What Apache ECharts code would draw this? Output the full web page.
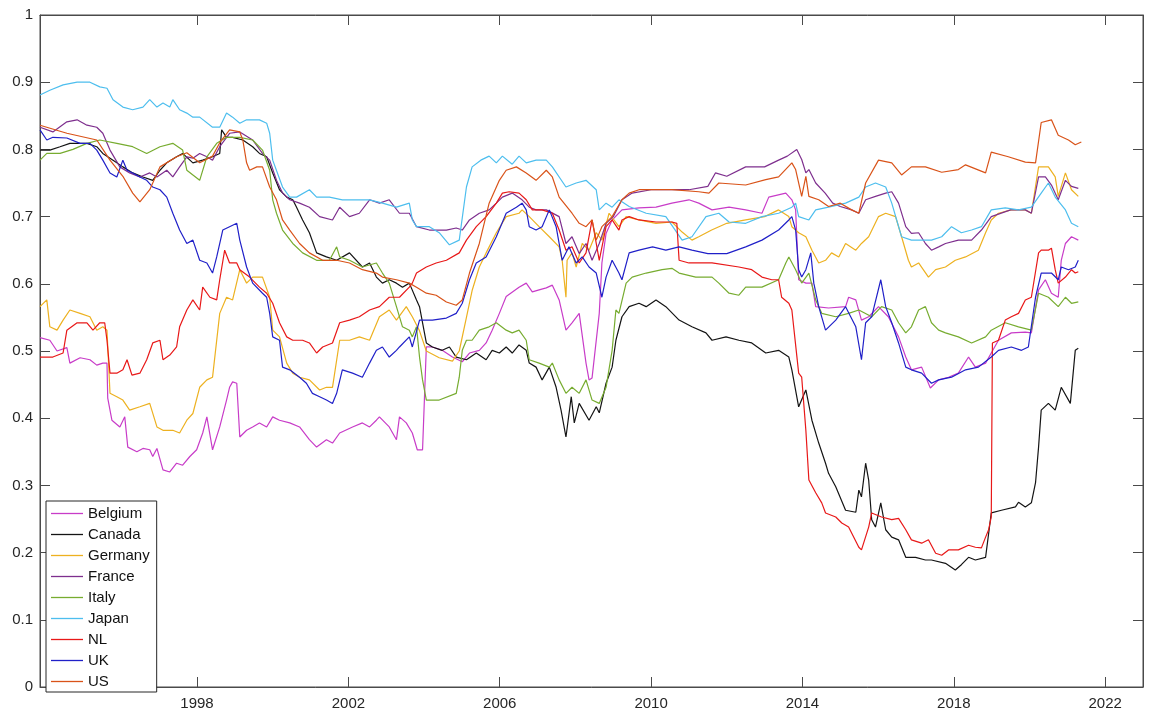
<!DOCTYPE html>
<html>
<head>
<meta charset="utf-8">
<script src="https://cdn.jsdelivr.net/npm/echarts@6/dist/echarts.min.js"></script>
<style>
  html, body { margin: 0; padding: 0; background: #fff; }
  #chart { width: 1150px; height: 715px; }
</style>
</head>
<body>
<div id="chart"></div>
<script>
// Monthly-ish readings per country: [decimal year, value]
const countries = ['Belgium', 'Canada', 'Germany', 'France', 'Italy', 'Japan', 'NL', 'UK', 'US'];
const yearTicks = [1998, 2002, 2006, 2010, 2014, 2018, 2022];

const belgium = [[1993.85,.520],[1994.11,.516],[1994.30,.500],[1994.56,.505],[1994.64,.482],[1994.91,.490],[1995.17,.487],[1995.35,.479],[1995.51,.482],[1995.62,.482],[1995.64,.430],[1995.75,.397],[1995.96,.387],[1996.09,.402],[1996.17,.357],[1996.41,.350],[1996.57,.355],[1996.75,.353],[1996.83,.343],[1996.94,.355],[1997.10,.323],[1997.28,.320],[1997.46,.333],[1997.62,.330],[1997.81,.343],[1997.99,.353],[1998.15,.378],[1998.26,.402],[1998.41,.353],[1998.60,.387],[1998.78,.427],[1998.86,.446],[1998.94,.454],[1999.05,.452],[1999.13,.372],[1999.31,.382],[1999.47,.387],[1999.65,.393],[1999.84,.387],[2000.00,.402],[2000.18,.397],[2000.45,.393],[2000.71,.387],[2000.97,.368],[2001.16,.357],[2001.42,.368],[2001.58,.363],[2001.77,.378],[2002.11,.387],[2002.37,.393],[2002.56,.387],[2002.74,.397],[2002.82,.402],[2003.08,.387],[2003.27,.368],[2003.35,.402],[2003.53,.393],[2003.69,.378],[2003.82,.353],[2003.96,.353],[2004.06,.506],[2004.22,.506],[2004.48,.501],[2004.75,.491],[2005.01,.484],[2005.20,.497],[2005.46,.501],[2005.64,.512],[2005.80,.531],[2005.99,.556],[2006.17,.581],[2006.51,.595],[2006.70,.601],[2006.86,.588],[2007.04,.591],[2007.23,.594],[2007.39,.598],[2007.57,.576],[2007.75,.531],[2007.91,.542],[2008.10,.556],[2008.28,.482],[2008.36,.457],[2008.44,.460],[2008.63,.556],[2008.70,.631],[2008.81,.675],[2008.97,.695],[2009.23,.710],[2009.68,.713],[2010.13,.714],[2010.55,.720],[2011.00,.725],[2011.26,.720],[2011.61,.710],[2012.06,.714],[2012.50,.710],[2012.93,.705],[2013.11,.729],[2013.56,.735],[2013.72,.725],[2013.82,.710],[2013.90,.606],[2014.09,.601],[2014.25,.601],[2014.35,.566],[2014.69,.564],[2015.14,.566],[2015.22,.580],[2015.41,.576],[2015.56,.546],[2015.75,.551],[2016.01,.566],[2016.27,.551],[2016.54,.521],[2016.73,.491],[2016.88,.472],[2017.15,.476],[2017.38,.445],[2017.60,.457],[2017.86,.461],[2018.12,.467],[2018.39,.491],[2018.57,.476],[2018.84,.482],[2018.99,.497],[2019.18,.516],[2019.52,.527],[2019.89,.528],[2020.05,.527],[2020.24,.591],[2020.42,.606],[2020.58,.586],[2020.76,.580],[2020.84,.635],[2020.95,.660],[2021.11,.670],[2021.29,.665]];

const canada = [[1993.85,.799],[1994.11,.799],[1994.38,.804],[1994.64,.809],[1995.09,.809],[1995.35,.804],[1995.51,.794],[1995.78,.784],[1996.04,.774],[1996.30,.765],[1996.57,.759],[1996.83,.754],[1997.02,.769],[1997.20,.780],[1997.46,.789],[1997.62,.794],[1997.89,.780],[1998.15,.784],[1998.41,.789],[1998.60,.794],[1998.65,.829],[1998.78,.818],[1998.94,.818],[1999.21,.814],[1999.47,.804],[1999.65,.794],[1999.84,.789],[2000.00,.765],[2000.18,.740],[2000.37,.729],[2000.53,.725],[2000.63,.714],[2000.79,.695],[2000.97,.676],[2001.16,.646],[2001.42,.640],[2001.69,.635],[2002.03,.646],[2002.37,.625],[2002.56,.631],[2002.74,.610],[2002.90,.601],[2003.08,.606],[2003.27,.601],[2003.43,.595],[2003.61,.601],[2003.80,.576],[2003.88,.566],[2004.06,.512],[2004.22,.506],[2004.48,.501],[2004.67,.506],[2004.85,.491],[2005.12,.487],[2005.38,.497],[2005.64,.487],[2005.80,.501],[2005.99,.497],[2006.17,.506],[2006.33,.497],[2006.51,.509],[2006.70,.501],[2006.78,.482],[2006.96,.476],[2007.12,.457],[2007.31,.476],[2007.49,.446],[2007.62,.412],[2007.75,.372],[2007.89,.432],[2007.97,.393],[2008.10,.422],[2008.36,.397],[2008.55,.417],[2008.63,.408],[2008.81,.452],[2008.97,.476],[2009.07,.516],[2009.23,.551],[2009.42,.566],[2009.68,.571],[2009.87,.566],[2010.13,.576],[2010.39,.566],[2010.74,.546],[2011.08,.536],[2011.45,.527],[2011.61,.516],[2011.98,.521],[2012.32,.516],[2012.66,.512],[2013.03,.497],[2013.37,.501],[2013.64,.491],[2013.72,.472],[2013.90,.417],[2014.09,.442],[2014.25,.397],[2014.43,.363],[2014.61,.333],[2014.69,.318],[2014.88,.298],[2015.14,.263],[2015.41,.260],[2015.49,.293],[2015.56,.283],[2015.67,.333],[2015.75,.308],[2015.83,.249],[2015.93,.238],[2016.07,.274],[2016.20,.234],[2016.36,.223],[2016.54,.219],[2016.73,.193],[2016.99,.193],[2017.25,.189],[2017.41,.189],[2017.78,.184],[2018.04,.174],[2018.20,.182],[2018.39,.193],[2018.57,.189],[2018.84,.193],[2018.99,.259],[2019.26,.263],[2019.63,.268],[2019.71,.275],[2019.89,.268],[2020.05,.274],[2020.16,.304],[2020.24,.357],[2020.31,.412],[2020.50,.422],[2020.68,.412],[2020.84,.446],[2021.08,.422],[2021.21,.501],[2021.29,.504]];

const germany = [[1993.85,.566],[1994.03,.576],[1994.11,.536],[1994.30,.531],[1994.46,.546],[1994.64,.561],[1994.91,.556],[1995.17,.551],[1995.35,.531],[1995.51,.536],[1995.62,.531],[1995.70,.437],[1995.88,.432],[1996.04,.427],[1996.22,.412],[1996.49,.417],[1996.75,.422],[1996.94,.387],[1997.10,.382],[1997.36,.382],[1997.54,.378],[1997.73,.397],[1997.89,.407],[1998.07,.446],[1998.26,.457],[1998.41,.461],[1998.60,.556],[1998.78,.580],[1998.94,.576],[1999.13,.621],[1999.31,.601],[1999.47,.610],[1999.73,.610],[1999.92,.580],[2000.00,.531],[2000.18,.521],[2000.37,.482],[2000.53,.467],[2000.71,.461],[2000.97,.457],[2001.24,.442],[2001.42,.446],[2001.58,.446],[2001.77,.516],[2002.03,.516],[2002.29,.521],[2002.56,.516],[2002.82,.551],[2003.08,.561],[2003.27,.546],[2003.53,.566],[2003.69,.551],[2003.88,.530],[2004.06,.500],[2004.40,.490],[2004.75,.485],[2004.93,.500],[2005.12,.550],[2005.27,.590],[2005.46,.625],[2005.64,.646],[2005.91,.676],[2006.17,.700],[2006.51,.705],[2006.59,.710],[2006.78,.700],[2007.04,.685],[2007.31,.670],[2007.57,.655],[2007.65,.635],[2007.75,.580],[2007.78,.635],[2007.91,.646],[2008.02,.625],[2008.18,.660],[2008.36,.650],[2008.55,.676],[2008.70,.665],[2008.89,.705],[2009.15,.685],[2009.34,.700],[2009.68,.695],[2010.13,.690],[2010.55,.692],[2010.82,.677],[2011.08,.665],[2011.26,.670],[2011.60,.680],[2012.00,.690],[2012.50,.695],[2013.00,.700],[2013.37,.710],[2013.64,.700],[2013.72,.685],[2013.90,.676],[2014.09,.670],[2014.25,.650],[2014.43,.631],[2014.61,.635],[2014.77,.646],[2014.96,.640],[2015.14,.660],[2015.41,.650],[2015.56,.660],[2015.75,.670],[2016.01,.700],[2016.20,.705],[2016.46,.700],[2016.62,.670],[2016.80,.635],[2016.88,.625],[2017.07,.631],[2017.33,.610],[2017.52,.621],[2017.78,.625],[2018.04,.635],[2018.31,.640],[2018.65,.650],[2018.84,.676],[2018.99,.695],[2019.18,.705],[2019.52,.710],[2019.89,.710],[2020.05,.705],[2020.24,.774],[2020.50,.774],[2020.68,.759],[2020.76,.730],[2020.95,.765],[2021.11,.740],[2021.29,.730]];

const france = [[1993.85,.833],[1994.19,.826],[1994.56,.841],[1994.83,.844],[1995.09,.836],[1995.35,.833],[1995.51,.824],[1995.70,.799],[1995.96,.774],[1996.22,.765],[1996.49,.759],[1996.75,.765],[1996.94,.759],[1997.20,.769],[1997.36,.759],[1997.54,.774],[1997.73,.789],[1997.89,.787],[1998.07,.794],[1998.26,.789],[1998.41,.784],[1998.60,.804],[1998.86,.824],[1999.13,.826],[1999.47,.814],[1999.73,.794],[1999.92,.784],[2000.10,.754],[2000.26,.735],[2000.45,.725],[2000.71,.720],[2000.97,.714],[2001.24,.700],[2001.58,.695],[2001.77,.714],[2002.03,.700],[2002.29,.705],[2002.56,.725],[2002.82,.720],[2003.08,.725],[2003.35,.705],[2003.61,.705],[2003.80,.685],[2004.14,.680],[2004.59,.680],[2004.85,.683],[2005.01,.680],[2005.20,.695],[2005.46,.705],[2005.72,.710],[2005.91,.720],[2006.07,.729],[2006.33,.735],[2006.59,.725],[2006.78,.714],[2006.96,.710],[2007.23,.710],[2007.57,.700],[2007.75,.660],[2007.91,.670],[2008.10,.645],[2008.28,.660],[2008.44,.635],[2008.63,.660],[2008.81,.690],[2009.00,.700],[2009.23,.725],[2009.50,.735],[2010.00,.740],[2010.50,.740],[2011.00,.740],[2011.50,.745],[2011.70,.765],[2012.00,.760],[2012.50,.774],[2013.00,.774],[2013.37,.784],[2013.60,.790],[2013.85,.800],[2013.98,.785],[2014.09,.765],[2014.17,.770],[2014.35,.750],[2014.60,.735],[2014.80,.720],[2015.00,.715],[2015.30,.710],[2015.49,.705],[2015.67,.725],[2015.93,.730],[2016.20,.735],[2016.36,.737],[2016.54,.720],[2016.73,.685],[2016.88,.675],[2017.07,.676],[2017.25,.660],[2017.41,.650],[2017.60,.655],[2017.78,.660],[2018.12,.665],[2018.47,.665],[2018.73,.680],[2018.99,.700],[2019.50,.710],[2019.89,.710],[2020.05,.705],[2020.24,.759],[2020.42,.759],[2020.58,.747],[2020.76,.725],[2020.95,.754],[2021.11,.745],[2021.29,.742]];

const italy = [[1993.85,.784],[1994.03,.794],[1994.38,.794],[1994.72,.800],[1995.09,.809],[1995.43,.814],[1995.88,.809],[1996.30,.804],[1996.67,.794],[1997.02,.804],[1997.36,.809],[1997.62,.799],[1997.73,.769],[1998.07,.754],[1998.26,.789],[1998.52,.809],[1998.78,.818],[1999.13,.818],[1999.47,.814],[1999.73,.799],[1999.92,.769],[2000.00,.725],[2000.10,.705],[2000.26,.680],[2000.53,.660],[2000.79,.646],[2001.16,.635],[2001.50,.635],[2001.69,.655],[2001.77,.640],[2002.03,.635],[2002.37,.625],[2002.74,.631],[2002.90,.616],[2003.08,.601],[2003.27,.566],[2003.43,.536],[2003.61,.531],[2003.69,.521],[2003.80,.536],[2003.88,.491],[2003.96,.457],[2004.06,.427],[2004.40,.427],[2004.85,.437],[2004.93,.461],[2005.01,.501],[2005.12,.516],[2005.27,.516],[2005.46,.531],[2005.72,.536],[2005.91,.542],[2006.17,.531],[2006.33,.527],[2006.51,.531],[2006.70,.516],[2006.78,.487],[2007.04,.482],[2007.31,.476],[2007.39,.482],[2007.57,.457],[2007.75,.437],[2007.91,.446],[2008.10,.437],[2008.28,.457],[2008.44,.427],[2008.63,.422],[2008.81,.446],[2008.97,.501],[2009.07,.561],[2009.15,.556],[2009.34,.601],[2009.50,.610],[2009.87,.616],[2010.29,.621],[2010.55,.623],[2010.74,.616],[2011.18,.610],[2011.61,.610],[2011.79,.601],[2012.06,.586],[2012.32,.583],[2012.50,.595],[2012.93,.595],[2013.37,.606],[2013.56,.631],[2013.64,.640],[2013.82,.621],[2013.98,.601],[2014.17,.616],[2014.35,.576],[2014.51,.556],[2014.88,.551],[2015.22,.556],[2015.49,.561],[2015.83,.551],[2016.09,.566],[2016.36,.561],[2016.54,.542],[2016.73,.527],[2016.88,.536],[2017.07,.561],[2017.25,.566],[2017.41,.542],[2017.60,.531],[2017.78,.527],[2018.12,.521],[2018.47,.512],[2018.84,.521],[2018.99,.531],[2019.36,.542],[2019.71,.536],[2020.05,.531],[2020.24,.586],[2020.50,.580],[2020.76,.566],[2020.95,.580],[2021.11,.571],[2021.29,.573]];

const japan = [[1993.85,.881],[1994.11,.888],[1994.46,.896],[1994.83,.900],[1995.17,.900],[1995.43,.893],[1995.62,.891],[1995.78,.874],[1996.04,.863],[1996.30,.859],[1996.57,.863],[1996.75,.874],[1996.94,.863],[1997.10,.869],[1997.28,.863],[1997.36,.874],[1997.54,.859],[1997.73,.854],[1997.89,.848],[1998.07,.848],[1998.41,.833],[1998.60,.833],[1998.78,.854],[1998.94,.848],[1999.13,.839],[1999.31,.844],[1999.65,.844],[1999.84,.839],[1999.92,.824],[2000.00,.784],[2000.26,.744],[2000.45,.729],[2000.63,.729],[2000.97,.740],[2001.16,.729],[2001.50,.729],[2001.84,.725],[2002.29,.725],[2002.56,.725],[2002.90,.720],[2003.27,.714],[2003.61,.720],[2003.69,.695],[2003.80,.685],[2004.14,.685],[2004.40,.676],[2004.67,.658],[2004.93,.665],[2005.12,.744],[2005.27,.774],[2005.50,.784],[2005.72,.790],[2005.91,.780],[2006.07,.790],[2006.33,.778],[2006.51,.790],[2006.70,.780],[2006.96,.784],[2007.23,.784],[2007.39,.774],[2007.75,.744],[2008.02,.750],[2008.28,.754],[2008.55,.740],[2008.63,.710],[2008.81,.720],[2008.97,.714],[2009.15,.725],[2009.42,.715],[2009.87,.705],[2010.39,.700],[2010.82,.665],[2011.08,.670],[2011.45,.700],[2011.79,.705],[2012.06,.692],[2012.50,.690],[2012.93,.700],[2013.37,.705],[2013.72,.714],[2013.82,.720],[2013.90,.700],[2014.17,.695],[2014.35,.710],[2014.69,.714],[2015.14,.720],[2015.49,.729],[2015.67,.744],[2015.93,.750],[2016.20,.744],[2016.36,.720],[2016.62,.670],[2016.88,.665],[2017.15,.665],[2017.41,.665],[2017.68,.670],[2017.94,.685],[2018.20,.676],[2018.47,.680],[2018.73,.685],[2018.99,.710],[2019.36,.713],[2019.71,.710],[2020.05,.714],[2020.31,.735],[2020.50,.750],[2020.68,.729],[2020.95,.710],[2021.11,.690],[2021.29,.685]];

const nl = [[1993.85,.491],[1994.19,.491],[1994.46,.497],[1994.56,.531],[1994.83,.542],[1995.09,.542],[1995.25,.531],[1995.43,.542],[1995.56,.542],[1995.62,.516],[1995.70,.467],[1995.88,.467],[1996.04,.472],[1996.15,.487],[1996.28,.464],[1996.49,.467],[1996.67,.487],[1996.83,.512],[1997.02,.516],[1997.10,.487],[1997.28,.494],[1997.46,.506],[1997.54,.536],[1997.73,.561],[1997.89,.576],[1998.07,.561],[1998.15,.595],[1998.34,.580],[1998.52,.576],[1998.60,.606],[1998.73,.650],[1998.86,.631],[1999.05,.631],[1999.13,.621],[1999.39,.610],[1999.65,.595],[1999.84,.586],[2000.00,.571],[2000.18,.542],[2000.37,.521],[2000.53,.516],[2000.79,.516],[2000.97,.512],[2001.16,.497],[2001.32,.506],[2001.58,.512],[2001.77,.542],[2002.03,.546],[2002.29,.551],[2002.56,.561],[2002.82,.566],[2003.08,.580],[2003.35,.580],[2003.61,.595],[2003.69,.601],[2003.80,.616],[2004.06,.625],[2004.32,.631],[2004.59,.635],[2004.93,.646],[2005.12,.665],[2005.38,.685],[2005.64,.700],[2005.91,.720],[2006.07,.735],[2006.25,.737],[2006.51,.735],[2006.70,.725],[2006.86,.710],[2007.12,.710],[2007.39,.705],[2007.57,.680],[2007.75,.650],[2007.91,.655],[2008.10,.631],[2008.28,.646],[2008.44,.695],[2008.63,.635],[2008.81,.685],[2008.97,.695],[2009.15,.680],[2009.23,.695],[2009.42,.700],[2009.68,.695],[2010.13,.692],[2010.55,.692],[2010.68,.690],[2010.74,.635],[2011.00,.631],[2011.61,.631],[2012.32,.625],[2012.66,.621],[2012.93,.610],[2013.19,.606],[2013.37,.606],[2013.45,.580],[2013.64,.571],[2013.72,.561],[2013.90,.467],[2013.98,.461],[2014.09,.382],[2014.17,.308],[2014.35,.289],[2014.51,.274],[2014.61,.259],[2014.88,.253],[2015.04,.244],[2015.22,.238],[2015.49,.208],[2015.56,.204],[2015.75,.238],[2015.83,.259],[2016.09,.253],[2016.36,.249],[2016.54,.251],[2016.73,.234],[2016.88,.219],[2017.15,.214],[2017.33,.219],[2017.52,.199],[2017.68,.196],[2017.86,.204],[2018.12,.204],[2018.39,.211],[2018.57,.208],[2018.73,.207],[2018.84,.223],[2018.92,.234],[2018.99,.253],[2019.02,.512],[2019.18,.516],[2019.36,.546],[2019.52,.551],[2019.71,.556],[2019.89,.576],[2020.05,.580],[2020.24,.646],[2020.31,.650],[2020.50,.650],[2020.58,.653],[2020.68,.621],[2020.76,.601],[2020.95,.610],[2021.11,.621],[2021.21,.616],[2021.29,.618]];

const uk = [[1993.85,.829],[1994.03,.814],[1994.19,.818],[1994.56,.817],[1994.91,.809],[1995.17,.809],[1995.35,.799],[1995.51,.784],[1995.70,.765],[1995.88,.759],[1996.04,.784],[1996.15,.769],[1996.30,.765],[1996.49,.759],[1996.67,.754],[1996.83,.744],[1997.02,.740],[1997.20,.729],[1997.36,.705],[1997.54,.680],[1997.73,.660],[1997.89,.665],[1998.07,.635],[1998.26,.631],[1998.41,.616],[1998.52,.640],[1998.68,.680],[1998.86,.685],[1999.05,.690],[1999.13,.665],[1999.31,.625],[1999.47,.601],[1999.73,.586],[1999.84,.580],[1999.92,.556],[2000.00,.521],[2000.18,.516],[2000.26,.476],[2000.45,.472],[2000.71,.461],[2000.89,.452],[2001.05,.437],[2001.24,.432],[2001.42,.427],[2001.58,.422],[2001.69,.437],[2001.84,.472],[2002.11,.467],[2002.37,.461],[2002.56,.482],[2002.74,.501],[2002.90,.506],[2003.08,.491],[2003.27,.501],[2003.35,.506],[2003.61,.521],[2003.69,.506],[2003.88,.546],[2004.22,.546],[2004.59,.549],[2004.85,.556],[2005.01,.571],[2005.20,.606],[2005.38,.631],[2005.64,.640],[2005.91,.670],[2006.17,.705],[2006.44,.714],[2006.59,.720],[2006.70,.710],[2006.78,.685],[2006.96,.680],[2007.12,.685],[2007.31,.710],[2007.49,.685],[2007.65,.635],[2007.83,.655],[2008.02,.631],[2008.18,.640],[2008.36,.625],[2008.55,.616],[2008.70,.580],[2008.81,.610],[2008.97,.635],[2009.15,.616],[2009.23,.606],[2009.42,.646],[2009.68,.650],[2010.04,.655],[2010.39,.650],[2010.74,.655],[2011.08,.650],[2011.50,.645],[2012.00,.645],[2012.50,.655],[2012.93,.665],[2013.37,.680],[2013.64,.695],[2013.72,.700],[2013.82,.680],[2013.90,.621],[2013.98,.610],[2014.09,.621],[2014.22,.646],[2014.30,.601],[2014.43,.566],[2014.61,.531],[2014.88,.546],[2015.14,.566],[2015.41,.536],[2015.56,.487],[2015.67,.542],[2015.83,.551],[2016.07,.606],[2016.20,.566],[2016.36,.542],[2016.54,.512],[2016.73,.476],[2016.88,.472],[2017.15,.467],[2017.41,.452],[2017.60,.457],[2017.94,.461],[2018.31,.472],[2018.65,.476],[2018.99,.491],[2019.18,.501],[2019.52,.506],[2019.79,.501],[2019.97,.506],[2020.16,.580],[2020.31,.616],[2020.58,.616],[2020.76,.606],[2020.84,.625],[2021.03,.621],[2021.21,.625],[2021.29,.635]];

const us = [[1993.85,.836],[1994.56,.824],[1995.35,.814],[1995.70,.784],[1996.04,.760],[1996.30,.735],[1996.49,.722],[1996.75,.740],[1997.02,.774],[1997.46,.789],[1997.73,.795],[1998.07,.780],[1998.41,.790],[1998.60,.810],[1998.86,.829],[1999.13,.826],[1999.21,.814],[1999.31,.780],[1999.39,.769],[1999.58,.774],[1999.73,.774],[1999.92,.744],[2000.10,.725],[2000.26,.695],[2000.45,.680],[2000.71,.660],[2000.97,.646],[2001.32,.635],[2001.69,.635],[2002.03,.631],[2002.37,.621],[2002.74,.616],[2002.90,.610],[2003.27,.606],[2003.61,.601],[2003.80,.595],[2004.06,.586],[2004.32,.583],[2004.59,.573],[2004.85,.568],[2005.01,.576],[2005.20,.616],[2005.46,.660],[2005.72,.720],[2005.99,.754],[2006.17,.769],[2006.44,.774],[2006.70,.765],[2006.96,.754],[2007.23,.769],[2007.39,.759],[2007.57,.729],[2007.91,.705],[2008.10,.690],[2008.28,.685],[2008.44,.695],[2008.55,.665],[2008.70,.685],[2008.97,.700],[2009.23,.725],[2009.42,.735],[2009.68,.740],[2010.55,.740],[2011.26,.737],[2011.53,.735],[2011.79,.750],[2012.50,.747],[2013.03,.755],[2013.37,.759],[2013.72,.780],[2013.82,.770],[2013.98,.730],[2014.09,.760],[2014.17,.730],[2014.43,.725],[2014.69,.715],[2015.00,.720],[2015.30,.710],[2015.49,.705],[2015.67,.750],[2016.01,.784],[2016.36,.780],[2016.62,.762],[2016.88,.774],[2017.25,.774],[2017.68,.766],[2018.12,.770],[2018.31,.777],[2018.84,.765],[2018.99,.796],[2019.44,.789],[2019.89,.781],[2020.16,.780],[2020.31,.840],[2020.58,.844],[2020.76,.821],[2021.03,.814],[2021.21,.807],[2021.37,.811]];

const seriesData = [belgium, canada, germany, france, italy, japan, nl, uk, us];
const seriesColors = ['#C83CC8', '#141414', '#EDB120', '#7E2F8E', '#77AC30', '#4DBEEE', '#E81818', '#2020C8', '#D95319'];

const font = "'Liberation Sans', Arial, Helvetica, sans-serif";
const frame = '#4a4a4a';
const labelColor = '#262626';
const xMin = 1993.85, xMax = 2023.0;

const chart = echarts.init(document.getElementById('chart'), null, { renderer: 'canvas' });

const tickStyle = { show: true, inside: true, length: 10, lineStyle: { color: frame, width: 1 } };

chart.setOption({
  animation: false,
  backgroundColor: '#fff',
  grid: { left: 40, right: 7, top: 15, bottom: 28, show: true, borderColor: frame, borderWidth: 1, backgroundColor: '#fff' },
  xAxis: [
    {
      type: 'value', min: xMin, max: xMax, position: 'bottom',
      axisLine: { show: true, onZero: false, lineStyle: { color: frame } },
      axisTick: Object.assign({ customValues: yearTicks }, tickStyle),
      axisLabel: { customValues: yearTicks, formatter: v => String(Math.round(v)), color: labelColor, fontSize: 15, fontFamily: font, margin: 9 },
      splitLine: { show: false }
    },
    {
      type: 'value', min: xMin, max: xMax, position: 'top',
      axisLine: { show: true, onZero: false, lineStyle: { color: frame } },
      axisTick: Object.assign({ customValues: yearTicks }, tickStyle),
      axisLabel: { show: false },
      splitLine: { show: false }
    }
  ],
  yAxis: [
    {
      type: 'value', min: 0, max: 1, interval: 0.1, position: 'left',
      axisLine: { show: true, onZero: false, lineStyle: { color: frame } },
      axisTick: tickStyle,
      axisLabel: { color: labelColor, fontSize: 15, fontFamily: font, margin: 7 },
      splitLine: { show: false }
    },
    {
      type: 'value', min: 0, max: 1, interval: 0.1, position: 'right',
      axisLine: { show: true, onZero: false, lineStyle: { color: frame } },
      axisTick: tickStyle,
      axisLabel: { show: false },
      splitLine: { show: false }
    }
  ],
  legend: {
    data: countries,
    orient: 'vertical',
    left: 46, top: 501,
    itemWidth: 32, itemHeight: 14, itemGap: 6,
    icon: 'path://M0,0 L32,0 L32,1.3 L0,1.3 Z',
    symbolKeepAspect: true,
    padding: [5, 7, 3, 5],
    backgroundColor: '#fff',
    borderColor: '#262626', borderWidth: 1, borderRadius: 0,
    selectedMode: false,
    textStyle: { color: '#111', fontSize: 15, fontFamily: font, lineHeight: 14 }
  },
  series: countries.map((name, i) => ({
    name: name,
    type: 'line',
    data: seriesData[i],
    xAxisIndex: 0, yAxisIndex: 0,
    symbol: 'none', showSymbol: false,
    silent: true,
    color: seriesColors[i],
    lineStyle: { color: seriesColors[i], width: 1.2 },
    emphasis: { disabled: true }
  }))
});
</script>
</body>
</html>
